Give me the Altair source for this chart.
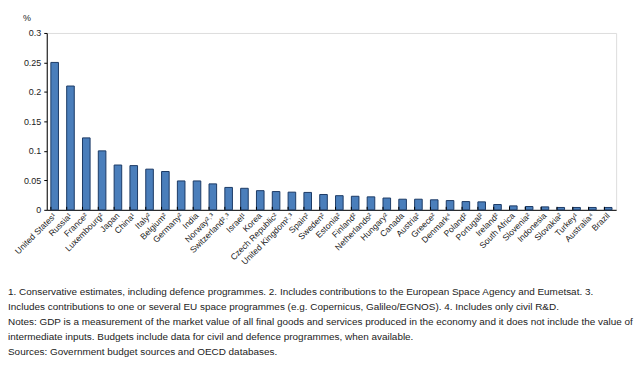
import altair as alt
import pandas as pd

countries = ["United States¹", "Russia¹", "France²", "Luxembourg²", "Japan", "China¹", "Italy²",
             "Belgium²", "Germany²", "India", "Norway²˒³", "Switzerland²˒³", "Israel¹", "Korea",
             "Czech Republic²", "United Kingdom²˒³", "Spain²", "Sweden²", "Estonia²", "Finland²",
             "Netherlands²", "Hungary²", "Canada", "Austria²", "Greece²", "Denmark⁴", "Poland²",
             "Portugal²", "Ireland²", "South Africa", "Slovenia²", "Indonesia", "Slovakia²",
             "Turkey¹", "Australia⁴", "Brazil"]
values = [0.250, 0.210, 0.122, 0.100, 0.076, 0.075, 0.069, 0.065, 0.049, 0.049, 0.044, 0.038,
          0.0365, 0.0325, 0.031, 0.030, 0.0295, 0.026, 0.024, 0.023, 0.022, 0.020, 0.018, 0.018,
          0.017, 0.0157, 0.014, 0.0135, 0.009, 0.0067, 0.0056, 0.005, 0.004, 0.004, 0.004, 0.004]
y_ticks = [0, 0.05, 0.1, 0.15, 0.2, 0.25, 0.3]
footnotes = [
    "1. Conservative estimates, including defence programmes. 2. Includes contributions to the European Space Agency and Eumetsat. 3.",
    "Includes contributions to one or several EU space programmes (e.g. Copernicus, Galileo/EGNOS). 4. Includes only civil R&D.",
    "Notes: GDP is a measurement of the market value of all final goods and services produced in the economy and it does not include the value of",
    "intermediate inputs. Budgets include data for civil and defence programmes, when available.",
    "Sources: Government budget sources and OECD databases.",
]

FONT = "Liberation Sans, Arial, sans-serif"
df = pd.DataFrame({"country": countries, "value": values})

W, H = 573, 178

xscale = alt.Scale(domain=countries, paddingInner=0.52, paddingOuter=0.26)
yscale = alt.Scale(domain=[0, 0.3], nice=False)

base = alt.Chart(df)

bars = base.mark_bar(color="#4a7ebb", stroke="#1c3a66", strokeWidth=1).encode(
    x=alt.X("country:N", sort=None, scale=xscale,
            axis=alt.Axis(title=None, labelAngle=-45, labelAlign="right", labelBaseline="middle",
                          labelFont=FONT, labelFontSize=8.6, labelColor="#222", ticks=False,
                          labelPadding=4, domainColor="#000", labelOverlap=False, labelBound=False)),
    y=alt.Y("value:Q", scale=yscale,
            axis=alt.Axis(title=None, values=y_ticks, format="~g", grid=False, tickSize=3,
                          tickColor="#000", domainColor="#000", labelFont=FONT, labelFontSize=9,
                          labelColor="#222", labelPadding=3)),
)

ticks = base.mark_rule(color="#000", strokeWidth=1).encode(
    x=alt.X("country:N", sort=None, scale=xscale, bandPosition=0),
    y=alt.value(H),
    y2=alt.value(H - 3),
)

tiny = alt.Chart(pd.DataFrame({"a": [0]}))
pct = tiny.mark_text(font=FONT, fontSize=9, color="#222", align="center", baseline="middle").encode(
    x=alt.value(-20), y=alt.value(-15), text=alt.value("%"))
spacer = tiny.mark_rule(strokeOpacity=0).encode(
    x=alt.value(0), x2=alt.value(1), y=alt.value(-24), y2=alt.value(-23))
notes = tiny.mark_text(font=FONT, fontSize=10, color="#222", align="left", baseline="middle",
                       lineHeight=15).encode(
    x=alt.value(-39), y=alt.value(261), text=alt.value(footnotes))

chart = alt.layer(bars, ticks, pct, spacer, notes).properties(
    width=W, height=H, padding=0
).configure_view(fill="#e7f5fa", stroke="#000", strokeWidth=1
).configure(background="white")

chart.save("out.html", embed_options={"renderer": "svg", "actions": False})
